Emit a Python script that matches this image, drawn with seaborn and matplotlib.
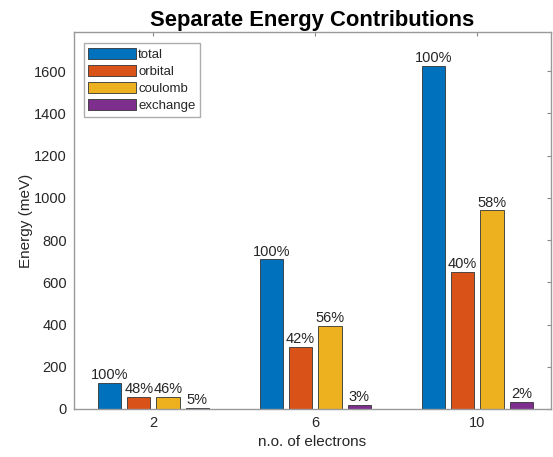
import matplotlib
matplotlib.use("Agg")
import matplotlib.pyplot as plt
import seaborn as sns
import pandas as pd

electrons = ["2", "6", "10"]
components = ["total", "orbital", "coulomb", "exchange"]
total = [124.5, 709, 1625]
orbital = [59, 295, 650]
coulomb = [57, 395, 940]
exchange = [7, 21, 34]
pct_total = ["100%", "100%", "100%"]
pct_orbital = ["48%", "42%", "40%"]
pct_coulomb = ["46%", "56%", "58%"]
pct_exchange = ["5%", "3%", "2%"]
colors = ["#0072BD", "#D95319", "#EDB120", "#7E2F8E"]

series = {"total": total, "orbital": orbital, "coulomb": coulomb, "exchange": exchange}
rows = []
for comp in components:
    for e, v in zip(electrons, series[comp]):
        rows.append({"electrons": e, "energy": v, "component": comp})
df = pd.DataFrame(rows)

sns.set_style("white")
plt.rcParams["font.family"] = ["Liberation Sans", "DejaVu Sans"]

fig = plt.figure(figsize=(5.53, 4.57), dpi=100)
ax = fig.add_axes([74 / 553, 48 / 457, (551 - 74) / 553, (409 - 32) / 457])

sns.barplot(data=df, x="electrons", y="energy", hue="component", order=electrons,
            hue_order=components, palette=colors, width=0.724, gap=0.2,
            edgecolor="#333333", linewidth=0.6, saturation=1, ax=ax, legend=True)

text_col = "#262626"
for cont, labs in zip(ax.containers, [pct_total, pct_orbital, pct_coulomb, pct_exchange]):
    ax.bar_label(cont, labels=labs, padding=0.5, fontsize=10.5, color=text_col)

ax.set_xlim(-0.49, 2.455)
ax.set_ylim(0, 1785)
ax.set_yticks(range(0, 1601, 200))
ax.tick_params(axis="both", direction="in", length=3, width=0.8, colors="#888888",
               labelcolor=text_col, labelsize=10.5, top=True, right=True, pad=5)
for sp in ax.spines.values():
    sp.set_visible(True)
    sp.set_color("#999999")
    sp.set_linewidth(1.0)

ax.set_xlabel("n.o. of electrons", fontsize=11, color=text_col, labelpad=4)
ax.set_ylabel("Energy (meV)", fontsize=11, color=text_col, labelpad=1)
ax.set_title("Separate Energy Contributions", fontsize=15.8, fontweight="bold", color="black", pad=4)

handles, labels = ax.get_legend_handles_labels()
leg = ax.legend(handles, labels, loc="upper left", bbox_to_anchor=(0.02, 0.97),
                fontsize=9.5, handlelength=3.6, handleheight=0.9, labelspacing=0.3,
                handletextpad=0.2, borderpad=0.35, frameon=True, fancybox=False,
                borderaxespad=0)
leg.get_frame().set_edgecolor("#999999")
leg.get_frame().set_linewidth(1.0)
for t in leg.get_texts():
    t.set_color(text_col)

fig.savefig("out.png", dpi=100)
